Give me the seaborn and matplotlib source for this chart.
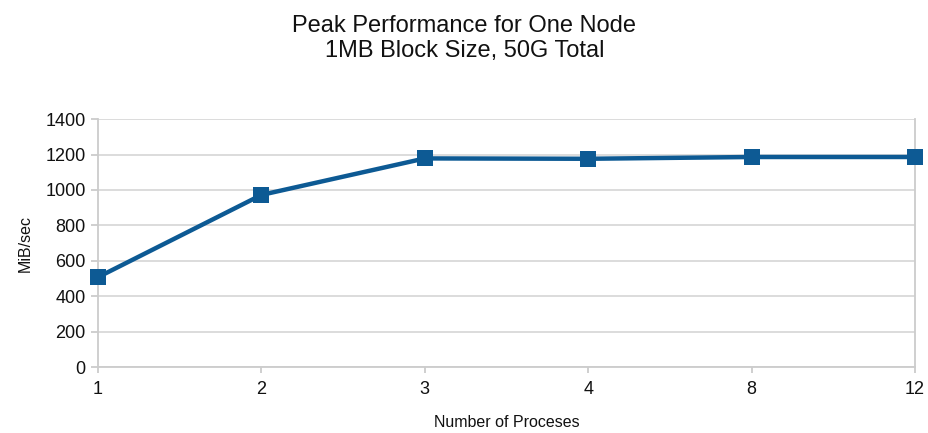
import matplotlib
matplotlib.use("Agg")
import matplotlib.pyplot as plt
import seaborn as sns
import pandas as pd

processes = ["1", "2", "3", "4", "8", "12"]
mib_sec = [508, 972, 1178, 1176, 1186, 1186]
y_ticks = [0, 200, 400, 600, 800, 1000, 1200, 1400]

sns.set_style("white")
plt.rcParams['font.family'] = ['Liberation Sans', 'DejaVu Sans']
plt.rcParams['text.color'] = '#111111'
plt.rcParams['axes.labelcolor'] = '#111111'
plt.rcParams['xtick.color'] = '#111111'
plt.rcParams['ytick.color'] = '#111111'

df = pd.DataFrame({"proc": processes, "val": mib_sec})

fig = plt.figure(figsize=(9.29, 4.33), dpi=100)
ax = fig.add_axes([0.1055, 0.152, 0.8795, 0.573])

color = "#0d5a94"
sns.lineplot(data=df, x="proc", y="val", ax=ax, color=color, linewidth=3.2,
             marker="s", markersize=11, markeredgewidth=0, sort=False,
             clip_on=False, zorder=5)

ax.set_xlim(0, len(processes) - 1)
ax.set_ylim(0, 1400)
ax.set_yticks(y_ticks)
ax.set_yticklabels([str(t) for t in y_ticks])
ax.grid(axis="y", color="#d9d9d9", linewidth=1.3)
ax.set_axisbelow(True)

ax.spines["top"].set_visible(False)
for side in ["left", "bottom", "right"]:
    ax.spines[side].set_visible(True)
    ax.spines[side].set_color("#cccccc")
    ax.spines[side].set_linewidth(1.3)

ax.tick_params(axis="y", which="both", left=True, length=5, width=1.3, color="#cccccc",
               labelsize=13, pad=4, labelcolor="#111111")
ax.tick_params(axis="x", bottom=True, length=4, width=1.3, color="#cccccc",
               labelsize=13, pad=6, labelcolor="#111111")

ax.set_xlabel("Number of Proceses", fontsize=11.5, labelpad=12)
ax.set_ylabel("MiB/sec", fontsize=11.5, labelpad=9)

fig.text(0.5, 0.911, "Peak Performance for One Node\n1MB Block Size, 50G Total",
         ha="center", va="center", fontsize=17, linespacing=1.15)

fig.savefig("out.png", dpi=100)
